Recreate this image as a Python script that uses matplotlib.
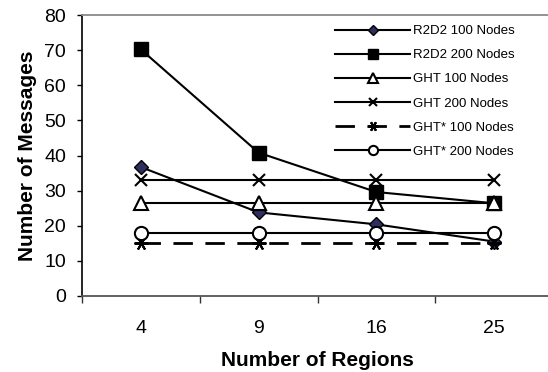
import matplotlib
matplotlib.use("Agg")
import matplotlib.pyplot as plt

plt.rcParams['font.family'] = ['Liberation Sans', 'DejaVu Sans']

regions = ['4', '9', '16', '25']
r2d2_100 = [36.7, 23.8, 20.4, 15.5]
r2d2_200 = [70.2, 40.8, 29.6, 26.4]
ght_100 = [26.6, 26.6, 26.6, 26.6]
ght_200 = [33.0, 33.0, 33.0, 33.0]
ghts_100 = [15.0, 15.0, 15.0, 15.0]
ghts_200 = [17.9, 17.9, 17.9, 17.9]

fig = plt.figure(figsize=(5.48, 3.72), dpi=100)
ax = fig.add_axes([82 / 548, 76 / 372, 471 / 548, 281 / 372])

x = list(range(1, len(regions) + 1))
lw = 1.5
ax.plot(x, r2d2_100, color='black', lw=lw, marker='D', ms=7,
        mfc='#2f2f5f', mec='black', label='R2D2 100 Nodes', zorder=3)
ax.plot(x, r2d2_200, color='black', lw=lw, marker='s', ms=10.5,
        mfc='black', mec='black', label='R2D2 200 Nodes', zorder=3)
ax.plot(x, ght_100, color='black', lw=lw, marker='^', ms=10,
        mfc='white', mec='black', mew=1.5, label='GHT 100 Nodes', zorder=3)
ax.plot(x, ght_200, color='black', lw=lw, marker='x', ms=9,
        mec='black', mew=1.5, label='GHT 200 Nodes', zorder=3)
ax.plot(x, ghts_100, color='black', lw=2, ls=(0, (7, 4.5)), marker=(6, 2, 90), ms=10,
        mec='black', mew=1.5, label='GHT* 100 Nodes', zorder=3)
ax.plot(x, ghts_200, color='black', lw=lw, marker='o', ms=9.5,
        mfc='white', mec='black', mew=1.5, label='GHT* 200 Nodes', zorder=3)

ax.set_xlim(0.5, len(regions) + 0.5)
ax.set_ylim(0, 80)
ax.set_yticks(range(0, 81, 10))
ax.set_xticks([i + 0.5 for i in range(len(regions) + 1)])
ax.set_xticklabels([])
ax.set_xticks(x, minor=True)
ax.set_xticklabels(regions, minor=True)
ax.tick_params(axis='x', which='major', direction='out', length=5, width=1, color='#333333')
ax.tick_params(axis='x', which='minor', length=0, pad=17, labelsize=14)
ax.tick_params(axis='y', direction='out', length=3.6, width=1, labelsize=14, pad=8)

ax.spines['right'].set_visible(False)
ax.spines['top'].set_color('#8a8a8a')
ax.spines['top'].set_linewidth(1.3)
ax.spines['bottom'].set_color('#555555')
ax.spines['bottom'].set_linewidth(1.3)
ax.spines['left'].set_color('black')
ax.spines['left'].set_linewidth(1.2)

ax.set_xlabel('Number of Regions', fontsize=15, fontweight='bold', labelpad=10)
ax.set_ylabel('Number of Messages', fontsize=15, fontweight='bold', labelpad=5)

leg = ax.legend(loc='upper left', bbox_to_anchor=(335 / 548, 1 - 25 / 372),
                bbox_transform=fig.transFigure, frameon=False, fontsize=9.5,
                handlelength=5.7, handletextpad=0.2, labelspacing=0.9,
                markerscale=0.7, borderaxespad=0, borderpad=0)

fig.savefig('out.png', dpi=100)
